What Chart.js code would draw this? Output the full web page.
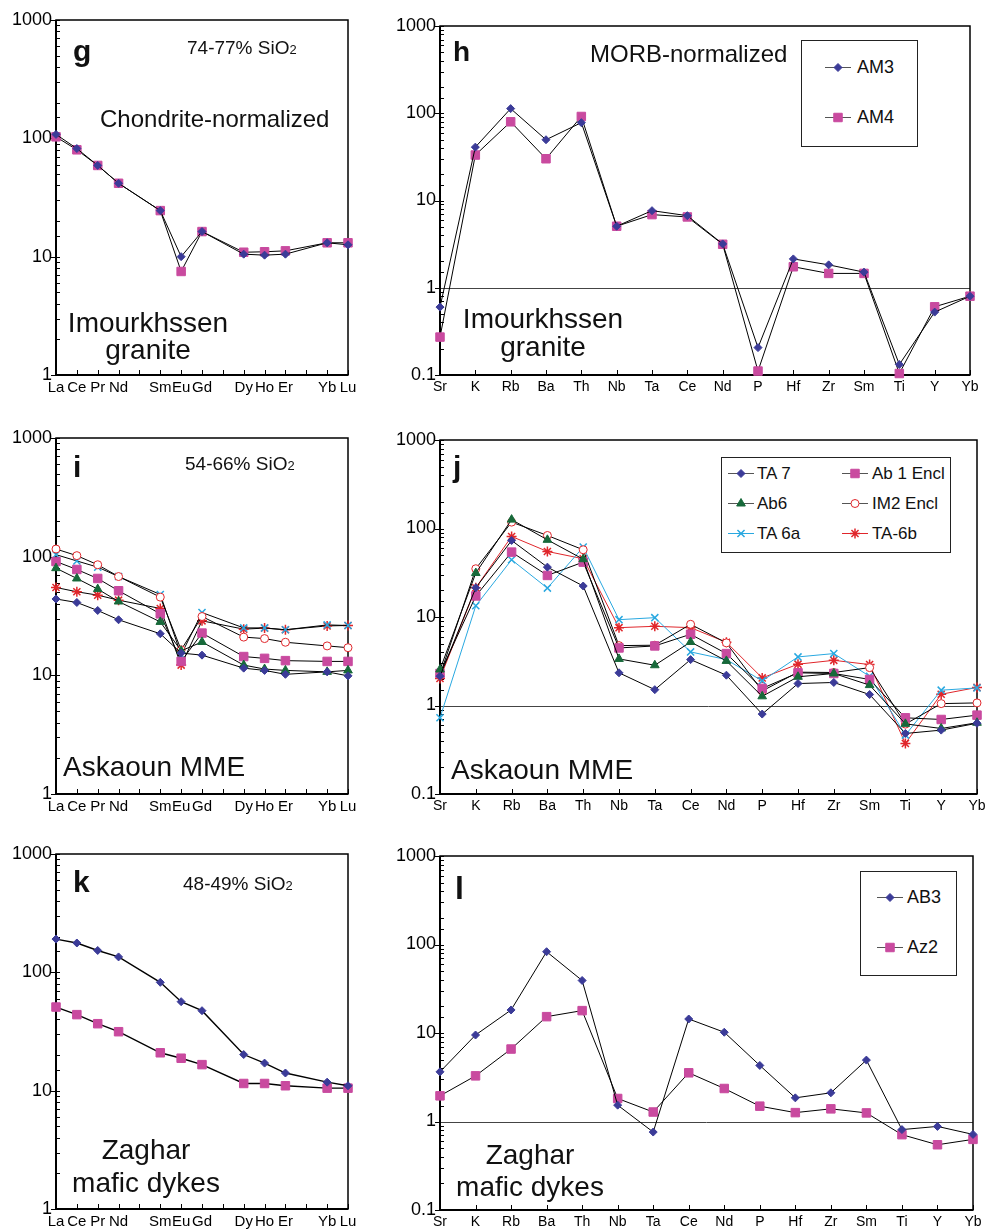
<!DOCTYPE html>
<html>
<head>
<meta charset="utf-8">
<script src="https://cdn.jsdelivr.net/npm/chart.js@4.4.1/dist/chart.umd.min.js"></script>
<style>
  html, body { margin: 0; padding: 0; background: #fff; }
  body { width: 987px; height: 1232px; position: relative; overflow: hidden;
         font-family: "Liberation Sans", Arial, Helvetica, sans-serif; color: #111; }
  canvas.panel { position: absolute; }
  .txt { position: absolute; white-space: nowrap; line-height: 1; }
  .lg { position: absolute; border: 1px solid #222; background: #fff; box-sizing: border-box; }
  canvas.smp { position: absolute; }
</style>
</head>
<body>
<script>
// --- categories and tick labels ---
const reeLabels = ['La', 'Ce', 'Pr', 'Nd', '', 'Sm', 'Eu', 'Gd', '', 'Dy', 'Ho', 'Er', '', 'Yb', 'Lu'];
const morbLabels = ['Sr', 'K', 'Rb', 'Ba', 'Th', 'Nb', 'Ta', 'Ce', 'Nd', 'P', 'Hf', 'Zr', 'Sm', 'Ti', 'Y', 'Yb'];
const reeTicks = ['1', '10', '100', '1000'];
const morbTicks = ['0.1', '1', '10', '100', '1000'];

// --- g / h : Imourkhssen granite ---
const am3Ree = [108, 82, 59, 41.7, null, 24.5, 10.0, 16.3, null, 10.5, 10.3, 10.5, null, 13.1, 12.6];
const am4Ree = [103, 80, 59, 41.7, null, 24.5, 7.5, 16.3, null, 10.9, 11.0, 11.2, null, 13.1, 13.1];
const am3Morb = [0.6, 40.9, 113, 49.7, 78, 5.07, 7.65, 6.7, 3.18, 0.206, 2.14, 1.83, 1.51, 0.132, 0.526, 0.80];
const am4Morb = [0.272, 33.2, 79.8, 30.1, 91.8, 5.07, 6.89, 6.48, 3.15, 0.111, 1.74, 1.46, 1.46, 0.104, 0.605, 0.80];

// --- i / j : Askaoun MME ---
const ta7Ree = [44, 41.1, 35.2, 29.4, null, 22.4, 15.4, 14.8, null, 11.5, 11.0, 10.2, null, 10.7, 9.9];
const ab1Ree = [91, 78, 65.5, 51.6, null, 33, 13.1, 22.7, null, 14.4, 13.9, 13.3, null, 13.1, 13.1];
const ab6Ree = [80, 65.5, 53.3, 41.9, null, 28.2, 16.1, 19.1, null, 12.2, 11.3, 11.0, null, 10.7, 11.0];
const im2Ree = [116, 102, 85.5, 68, null, 45.6, 16.4, 31.3, null, 21, 20.4, 19, null, 17.7, 17.1];
const ta6aRee = [104, 92, 81.6, 68, null, 48, 14.9, 33.8, null, 25.1, 25.1, 24.2, null, 26.6, 26.3];
const ta6bRee = [55, 50.6, 47.4, 43, null, 36.6, 12.2, 28.8, null, 24.5, 25, 24.2, null, 26.1, 26.3];

const ta7Morb = [2.14, 21.4, 73.3, 36.6, 22.4, 2.34, 1.51, 3.30, 2.2, 0.80, 1.77, 1.82, 1.33, 0.483, 0.527, 0.63];
const ab1Morb = [2.30, 17.3, 54.1, 29.5, 41.7, 4.47, 4.71, 6.38, 3.86, 1.56, 2.34, 2.30, 1.97, 0.726, 0.695, 0.778];
const ab6Morb = [2.55, 31.4, 126, 74.5, 45, 3.36, 2.85, 5.22, 3.19, 1.27, 2.11, 2.30, 1.70, 0.62, 0.55, 0.638];
const im2Morb = [2.2, 35.1, 118, 83.4, 57.5, 4.75, 4.8, 8.27, 5.1, 1.46, 2.38, 2.36, 2.68, 0.616, 1.05, 1.07];
const ta6aMorb = [0.726, 13.4, 44.3, 21.2, 61.6, 9.33, 9.83, 4.03, 3.3, 1.90, 3.54, 3.86, 2.14, 0.463, 1.49, 1.58];
const ta6bMorb = [2.02, 21.4, 81.3, 55, 45.5, 7.58, 7.85, 7.58, 5.18, 2.05, 2.93, 3.24, 2.9, 0.373, 1.34, 1.60];

// --- k / l : Zaghar mafic dykes ---
const ab3Ree = [191, 177, 153, 135, null, 82.3, 56.5, 47.4, null, 20.2, 17.1, 14.1, null, 11.8, 11.0];
const az2Ree = [50.9, 43.9, 36.8, 31.5, null, 20.9, 18.8, 16.6, null, 11.5, 11.5, 11.0, null, 10.5, 10.5];
const ab3Morb = [3.64, 9.49, 18.2, 82.9, 39.2, 1.53, 0.76, 14.4, 10.2, 4.3, 1.85, 2.11, 4.94, 0.81, 0.88, 0.715];
const az2Morb = [1.95, 3.28, 6.59, 15.3, 17.9, 1.82, 1.28, 3.55, 2.36, 1.49, 1.26, 1.39, 1.25, 0.71, 0.546, 0.628];

const FONT = '"Liberation Sans", Arial, Helvetica, sans-serif';

// marker looks
const mk = {
  diamond:  { shape: 'rectRot',  r: 4,   fill: '#3b3b98', stroke: '#3b3b98', bw: 1 },
  square:   { shape: 'rect',     r: 6,   fill: '#c94a9f', stroke: '#c94a9f', bw: 1 },
  triangle: { shape: 'triangle', r: 5,   fill: '#17693a', stroke: '#17693a', bw: 1 },
  circle:   { shape: 'circle',   r: 4,   fill: '#ffffff', stroke: '#e0262b', bw: 1 },
  cross:    { shape: 'crossRot', r: 5,   fill: '#29a8e0', stroke: '#29a8e0', bw: 1.5 },
  star:     { shape: 'star',     r: 5,   fill: '#e0262b', stroke: '#e0262b', bw: 1.5 }
};

function isPow10(v) {
  const l = Math.log10(v);
  return Math.abs(l - Math.round(l)) < 1e-6;
}

// frame, inward ticks and the reference line at 1
const framePlugin = {
  id: 'frame',
  beforeDatasetsDraw(chart, args, opts) {
    const ctx = chart.ctx, a = chart.chartArea;
    const xs = chart.scales.x, ys = chart.scales.y;
    ctx.save();
    ctx.strokeStyle = '#000';
    ctx.lineWidth = 1;
    ys.ticks.forEach(t => {
      const p = Math.round(ys.getPixelForValue(t.value)) + 0.5;
      ctx.beginPath();
      if (isPow10(t.value)) { ctx.moveTo(a.left - 5, p); ctx.lineTo(a.left + 4, p); }
      else { ctx.moveTo(a.left, p); ctx.lineTo(a.left + 4, p); }
      ctx.stroke();
    });
    xs.ticks.forEach((t, i) => {
      const p = Math.round(xs.getPixelForTick(i)) + 0.5;
      ctx.beginPath();
      ctx.moveTo(p, a.bottom);
      ctx.lineTo(p, a.bottom - 5);
      ctx.stroke();
    });
    if (opts.refLine) {
      const p = Math.round(ys.getPixelForValue(1)) + 0.5;
      ctx.strokeStyle = '#444';
      ctx.beginPath();
      ctx.moveTo(a.left, p);
      ctx.lineTo(a.right, p);
      ctx.stroke();
    }
    ctx.strokeStyle = '#000';
    ctx.lineWidth = 1.5;
    ctx.strokeRect(a.left, a.top, a.right - a.left, a.bottom - a.top);
    ctx.lineWidth = 2;
    ctx.beginPath();
    ctx.moveTo(a.left, a.top);
    ctx.lineTo(a.left, a.bottom);
    ctx.lineTo(a.right, a.bottom);
    ctx.stroke();
    ctx.restore();
  }
};

function ds(label, data, look, lineColor, lineWidth) {
  return {
    label: label,
    data: data,
    borderColor: lineColor || '#000',
    borderWidth: lineWidth || 1,
    pointStyle: look.shape,
    pointRadius: look.r,
    pointBackgroundColor: look.fill,
    pointBorderColor: look.stroke,
    pointBorderWidth: look.bw,
    showLine: true,
    spanGaps: true,
    tension: 0,
    fill: false,
    clip: false
  };
}

const Y_W = 56, PAD_T = 22, PAD_R = 14, X_H = 26;

function makePanel(p) {
  const cv = document.createElement('canvas');
  cv.className = 'panel';
  const yW = p.yW || Y_W;
  const w = (p.R - p.L) + yW + PAD_R;
  const h = (p.B - p.T) + PAD_T + X_H;
  cv.width = w; cv.height = h;
  cv.style.left = (p.L - yW) + 'px';
  cv.style.top = (p.T - PAD_T) + 'px';
  cv.style.width = w + 'px'; cv.style.height = h + 'px';
  document.body.appendChild(cv);

  new Chart(cv.getContext('2d'), {
    type: 'line',
    data: { labels: p.labels, datasets: p.datasets },
    options: {
      responsive: false,
      animation: false,
      devicePixelRatio: 1,
      layout: { padding: { top: PAD_T, right: PAD_R, left: 0, bottom: 0 } },
      plugins: {
        legend: { display: false },
        tooltip: { enabled: false },
        frame: { refLine: !!p.refLine }
      },
      scales: {
        x: {
          type: 'category',
          offset: false,
          grid: { display: false, drawTicks: false, tickLength: 0 },
          border: { display: false },
          ticks: { autoSkip: false, maxRotation: 0, minRotation: 0, color: '#000',
                   padding: 4, font: { family: FONT, size: p.xFont } },
          afterFit(s) { s.height = X_H; }
        },
        y: {
          type: 'logarithmic',
          min: p.min,
          max: p.max,
          grid: { display: false, drawTicks: false, tickLength: 0 },
          border: { display: false },
          ticks: {
            autoSkip: false, color: '#000', padding: 4,
            font: { family: FONT, size: 18 },
            callback(v) {
              const hit = p.tickLabels.find(s => Math.abs(Number(s) - v) < 1e-9);
              return hit || '';
            }
          },
          afterFit(s) { s.width = yW; }
        }
      }
    },
    plugins: [framePlugin]
  });
}

function addText(html, x, base, size, opt) {
  opt = opt || {};
  const d = document.createElement('div');
  d.className = 'txt';
  d.innerHTML = html;
  d.style.fontSize = size + 'px';
  d.style.top = (base - 0.846 * size) + 'px';
  d.style.left = x + 'px';
  if (opt.bold) d.style.fontWeight = 'bold';
  if (opt.center) d.style.transform = 'translateX(-50%)';
  document.body.appendChild(d);
}

function drawMark(ctx, look, x, y) {
  ctx.fillStyle = look.fill;
  ctx.strokeStyle = look.stroke;
  ctx.lineWidth = look.bw;
  if (Chart.helpers && Chart.helpers.drawPoint) {
    Chart.helpers.drawPoint(ctx, { pointStyle: look.shape, radius: look.r, rotation: 0, borderWidth: look.bw }, x, y);
  } else {
    ctx.beginPath(); ctx.arc(x, y, look.r, 0, Math.PI * 2); ctx.fill(); ctx.stroke();
  }
}

function addLegend(box, items, size) {
  const d = document.createElement('div');
  d.className = 'lg';
  d.style.left = box.x + 'px'; d.style.top = box.y + 'px';
  d.style.width = box.w + 'px'; d.style.height = box.h + 'px';
  document.body.appendChild(d);
  items.forEach(it => {
    const c = document.createElement('canvas');
    c.className = 'smp';
    c.width = 30; c.height = 16;
    c.style.left = (it.mx - 15) + 'px';
    c.style.top = (it.y - 8) + 'px';
    document.body.appendChild(c);
    const ctx = c.getContext('2d');
    ctx.strokeStyle = it.line || '#555';
    ctx.lineWidth = 1;
    ctx.beginPath(); ctx.moveTo(2, 8.5); ctx.lineTo(28, 8.5); ctx.stroke();
    drawMark(ctx, it.look, 15, 8.5);
    addText(it.text, it.tx, it.y + 0.36 * size, size);
  });
}

// ---------- panels ----------
makePanel({ L: 56, T: 20, R: 348, B: 375, labels: reeLabels, min: 1, max: 1000, tickLabels: reeTicks, xFont: 15,
  datasets: [ds('AM3', am3Ree, mk.diamond), ds('AM4', am4Ree, mk.square)] });

makePanel({ L: 440, T: 26, R: 970, B: 375, yW: 60, labels: morbLabels, min: 0.1, max: 1000, tickLabels: morbTicks, xFont: 14, refLine: true,
  datasets: [ds('AM3', am3Morb, mk.diamond), ds('AM4', am4Morb, mk.square)] });

makePanel({ L: 56, T: 438, R: 348, B: 794, labels: reeLabels, min: 1, max: 1000, tickLabels: reeTicks, xFont: 15,
  datasets: [
    ds('TA 7', ta7Ree, mk.diamond), ds('Ab6', ab6Ree, mk.triangle), ds('Ab 1 Encl', ab1Ree, mk.square),
    ds('IM2 Encl', im2Ree, mk.circle), ds('TA 6a', ta6aRee, mk.cross), ds('TA-6b', ta6bRee, mk.star)
  ] });

makePanel({ L: 440, T: 440, R: 977, B: 794, yW: 60, labels: morbLabels, min: 0.1, max: 1000, tickLabels: morbTicks, xFont: 14, refLine: true,
  datasets: [
    ds('TA 7', ta7Morb, mk.diamond), ds('Ab6', ab6Morb, mk.triangle), ds('Ab 1 Encl', ab1Morb, mk.square),
    ds('IM2 Encl', im2Morb, mk.circle), ds('TA 6a', ta6aMorb, mk.cross, '#29a8e0'), ds('TA-6b', ta6bMorb, mk.star, '#e0262b')
  ] });

makePanel({ L: 56, T: 854, R: 348, B: 1209, labels: reeLabels, min: 1, max: 1000, tickLabels: reeTicks, xFont: 15,
  datasets: [ds('AB3', ab3Ree, mk.diamond, '#000', 1.4), ds('Az2', az2Ree, mk.square, '#000', 1.4)] });

makePanel({ L: 440, T: 856, R: 973, B: 1210, yW: 60, labels: morbLabels, min: 0.1, max: 1000, tickLabels: morbTicks, xFont: 14, refLine: true,
  datasets: [ds('AB3', ab3Morb, mk.diamond), ds('Az2', az2Morb, mk.square)] });

// ---------- annotations ----------
const sio2 = s => s + '% SiO<span style="font-size:0.68em">2</span>';

addText('g', 73, 61, 30, { bold: true });
addText(sio2('74-77'), 187, 54, 19);
addText('Chondrite-normalized', 100, 127, 24);
addText('Imourkhssen', 148, 333, 28, { center: true });
addText('granite', 148, 360, 28, { center: true });

addText('h', 453, 62, 28, { bold: true });
addText('MORB-normalized', 590, 62, 24);
addText('Imourkhssen', 543, 329, 28, { center: true });
addText('granite', 543, 357, 28, { center: true });
addLegend({ x: 801, y: 40, w: 117, h: 107 }, [
  { look: mk.diamond, mx: 838, y: 67, tx: 857, text: 'AM3' },
  { look: mk.square, mx: 838, y: 117, tx: 857, text: 'AM4' }
], 18);

addText('i', 73, 477, 30, { bold: true });
addText(sio2('54-66'), 185, 470, 19);
addText('Askaoun MME', 63, 777, 28);

addText('j', 453, 477, 30, { bold: true });
addText('Askaoun MME', 451, 780, 28);
addLegend({ x: 721, y: 457, w: 230, h: 96 }, [
  { look: mk.diamond, mx: 741, y: 473, tx: 757, text: 'TA 7' },
  { look: mk.square, mx: 855, y: 473, tx: 872, text: 'Ab 1 Encl' },
  { look: mk.triangle, mx: 741, y: 503, tx: 757, text: 'Ab6' },
  { look: mk.circle, mx: 855, y: 503, tx: 872, text: 'IM2 Encl' },
  { look: mk.cross, mx: 741, y: 533, tx: 757, text: 'TA 6a', line: '#29a8e0' },
  { look: mk.star, mx: 855, y: 533, tx: 872, text: 'TA-6b', line: '#e0262b' }
], 17);

addText('k', 73, 892, 30, { bold: true });
addText(sio2('48-49'), 183, 890, 19);
addText('Zaghar', 146, 1160, 28, { center: true });
addText('mafic dykes', 146, 1193, 28, { center: true });

addText('l', 455, 899, 32, { bold: true });
addText('Zaghar', 530, 1165, 28, { center: true });
addText('mafic dykes', 530, 1197, 28, { center: true });
addLegend({ x: 860, y: 871, w: 97, h: 105 }, [
  { look: mk.diamond, mx: 890, y: 897, tx: 907, text: 'AB3' },
  { look: mk.square, mx: 890, y: 947, tx: 907, text: 'Az2' }
], 18);
</script>
</body>
</html>
